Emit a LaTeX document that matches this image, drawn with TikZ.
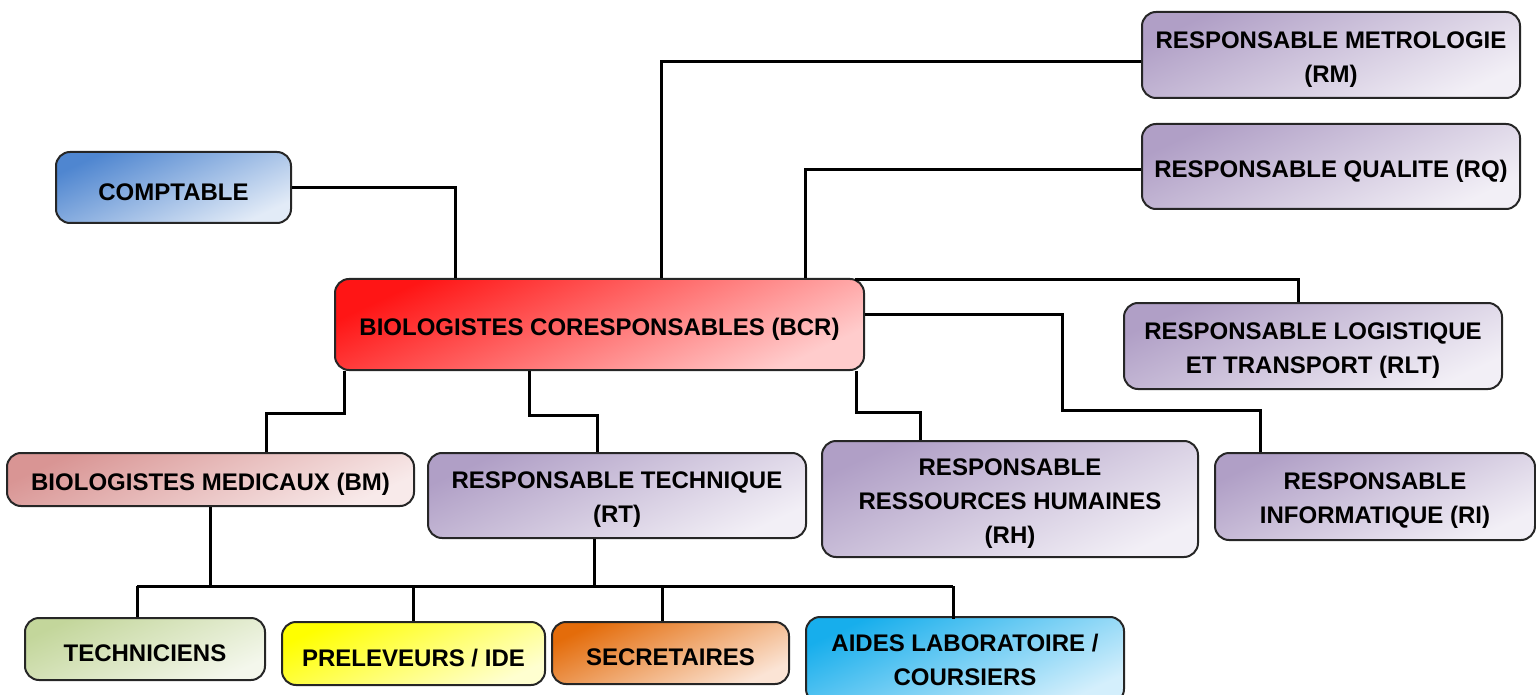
\documentclass[tikz,border=0pt]{standalone}
\usepackage{fontspec}
\setmainfont{Liberation Sans}
\usetikzlibrary{calc}
\definecolor{cmpA}{HTML}{4F86D0}\definecolor{cmpB}{HTML}{E2EBF7}
\definecolor{bcrA}{HTML}{FF1515}\definecolor{bcrB}{HTML}{FFCCCC}
\definecolor{purA}{HTML}{B09FC6}\definecolor{purB}{HTML}{F2EFF6}
\definecolor{bmA}{HTML}{D99594}\definecolor{bmB}{HTML}{F8EAEA}
\definecolor{tecA}{HTML}{C3D69B}\definecolor{tecB}{HTML}{F4F7EC}
\definecolor{preA}{HTML}{FFFF00}\definecolor{preB}{HTML}{FFFFD0}
\definecolor{secA}{HTML}{E46C0A}\definecolor{secB}{HTML}{FBE4D5}
\definecolor{aidA}{HTML}{17AEEC}\definecolor{aidB}{HTML}{D4EFFC}
\newcommand{\lowr}[1]{\raisebox{-2.25pt}[\height][\depth]{#1}}
\tikzset{
  box/.style={draw=black!85, line width=1pt, rounded corners=7pt, align=center,
    font=\bfseries\fontsize{12}{17}\selectfont, inner sep=0pt},
  grad/.style 2 args={top color=#1, bottom color=#2, shading angle=25},
  conn/.style={draw=black, line width=1.5pt}
}
\begin{document}
\begin{tikzpicture}[x=0.5pt,y=-0.5pt]
\useasboundingbox (0,0) rectangle (1536,695);
% nodes
\node[box, grad={cmpA}{cmpB}, minimum width=117.5pt, minimum height=35.5pt] (cmp) at (173.5,187.5) {\lowr{COMPTABLE}};
\node[box, grad={bcrA}{bcrB}, minimum width=264.5pt, minimum height=45.5pt] (bcr) at (599.5,324.5) {\lowr{BIOLOGISTES CORESPONSABLES (BCR)}};
\node[box, grad={purA}{purB}, minimum width=189pt, minimum height=43pt] (rm) at (1331,55) {\lowr{RESPONSABLE METROLOGIE}\\\lowr{(RM)}};
\node[box, grad={purA}{purB}, minimum width=189pt, minimum height=42.5pt] (rq) at (1331,166.5) {\lowr{RESPONSABLE QUALITE (RQ)}};
\node[box, grad={purA}{purB}, minimum width=189pt, minimum height=43pt] (rlt) at (1313,346) {\lowr{RESPONSABLE LOGISTIQUE}\\\lowr{ET TRANSPORT (RLT)}};
\node[box, grad={bmA}{bmB}, minimum width=203.5pt, minimum height=26.5pt] (bm) at (210.5,479.5) {\lowr{BIOLOGISTES MEDICAUX (BM)}};
\node[box, grad={purA}{purB}, minimum width=189pt, minimum height=42.5pt] (rt) at (617,495.5) {\lowr{RESPONSABLE TECHNIQUE}\\\lowr{(RT)}};
\node[box, grad={purA}{purB}, minimum width=188pt, minimum height=58pt] (rh) at (1010,499) {\lowr{RESPONSABLE}\\\lowr{RESSOURCES HUMAINES}\\\lowr{(RH)}};
\node[box, grad={purA}{purB}, minimum width=160pt, minimum height=43.5pt] (ri) at (1375,496.5) {\lowr{RESPONSABLE}\\\lowr{INFORMATIQUE (RI)}};
\node[box, grad={tecA}{tecB}, minimum width=120pt, minimum height=31pt] (tec) at (145,649) {\lowr{TECHNICIENS}};
\node[box, grad={preA}{preB}, minimum width=131.5pt, minimum height=31.5pt] (pre) at (413.5,653.5) {\lowr{PRELEVEURS / IDE}};
\node[box, grad={secA}{secB}, minimum width=118.5pt, minimum height=31pt] (sec) at (670.5,653) {\lowr{SECRETAIRES}};
\node[box, grad={aidA}{aidB}, minimum width=159pt, minimum height=43pt] (aid) at (965,660) {AIDES LABORATOIRE /\\COURSIERS};
% coordinates
\coordinate (riA) at (1062,410);
\coordinate (rhA) at (920,412);
\coordinate (bmA) at (266,413);
\coordinate (rtA) at (597,415);
\coordinate (busL) at (137,586);
\coordinate (busR) at (953,586);
\coordinate (s1) at (662,586);
% connectors
\draw[conn] (cmp.east) -| ([xshift=60.5pt]bcr.north west);
\draw[conn] ([xshift=163.5pt]bcr.north west) |- ([yshift=-3.5pt]rm.west);
\draw[conn] ([xshift=235.5pt]bcr.north west) |- ([yshift=-1.75pt]rq.west);
\draw[conn] ([xshift=-4.5pt]bcr.north east) -- ++(0,2) -| ([xshift=-7.5pt]rlt.north);
\draw[conn] ([yshift=5.25pt]bcr.east) -| (riA) -| ([xshift=-57.5pt]ri.north);
\draw[conn] ([xshift=-4.5pt]bcr.south east) |- (rhA) -- (rhA |- rh.north);
\draw[conn] ([xshift=5pt]bcr.south west) |- (bmA) -- (bmA |- bm.north);
\draw[conn] ([xshift=97.5pt]bcr.south west) |- (rtA) -- (rtA |- rt.north);
\draw[conn] (bm.south) -- (bm.south |- busL);
\draw[conn] ([xshift=-11.5pt]rt.south) -- ([xshift=-11.5pt]rt.south |- busL);
\draw[conn] (busL) -- (busR);
\draw[conn] (busL) -- (busL |- tec.north);
\draw[conn] (pre.north |- busL) -- (pre.north);
\draw[conn] (s1) -- (s1 |- sec.north);
\draw[conn] (busR) -- ([yshift=-1.5pt]busR |- aid.north);
\end{tikzpicture}
\end{document}
